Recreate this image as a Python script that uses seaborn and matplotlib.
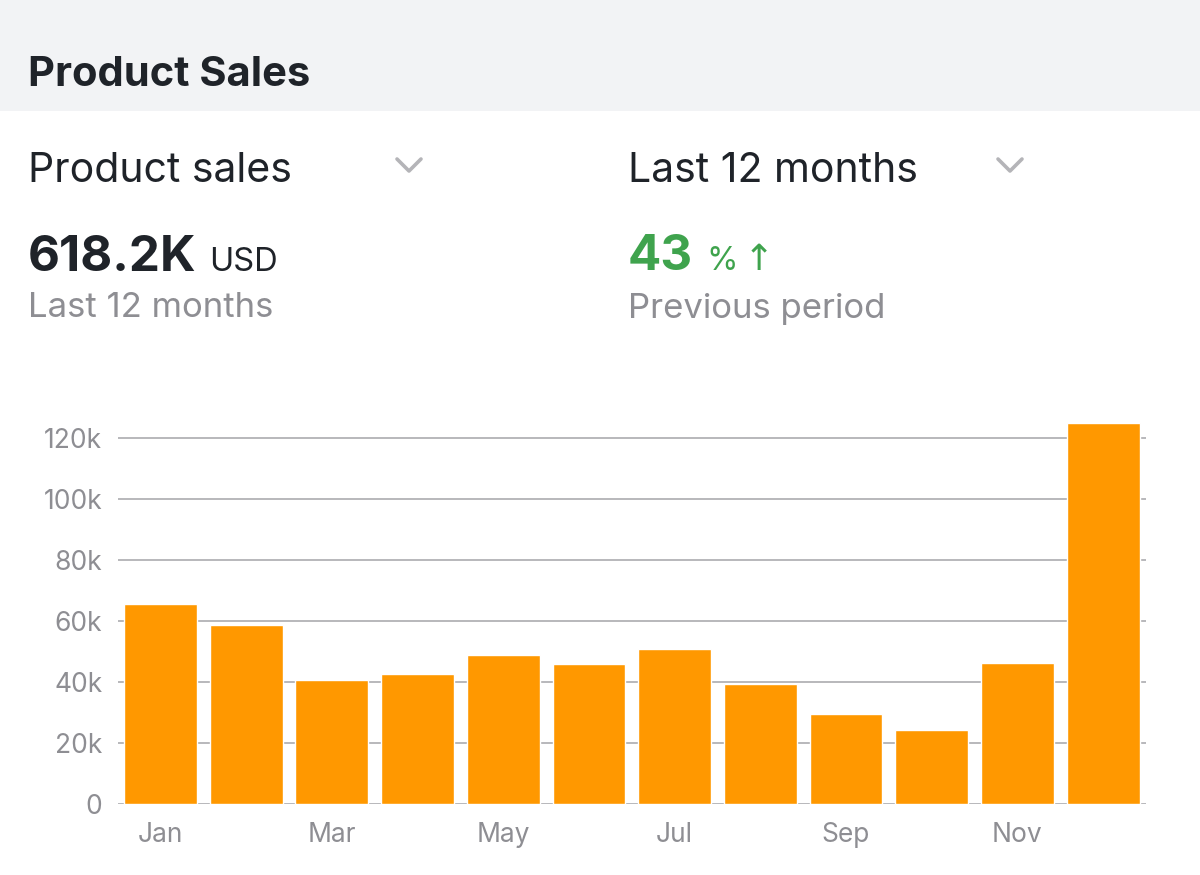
import matplotlib
matplotlib.use('Agg')
import matplotlib.pyplot as plt
import seaborn as sns
import pandas as pd
from matplotlib.patches import Rectangle
from matplotlib.lines import Line2D

months = ['Jan', 'Feb', 'Mar', 'Apr', 'May', 'Jun', 'Jul', 'Aug', 'Sep', 'Oct', 'Nov', 'Dec']
sales_k = [65.6, 58.7, 40.7, 42.7, 48.9, 45.9, 50.8, 39.3, 29.5, 24.3, 46.1, 125.0]
y_ticks = [0, 20, 40, 60, 80, 100, 120]
y_tick_labels = ['0', '20k', '40k', '60k', '80k', '100k', '120k']

df = pd.DataFrame({'month': months, 'sales': sales_k})

sns.set_theme(style='white')
plt.rcParams['font.family'] = ['Inter', 'DejaVu Sans']

W, H = 1200, 875
fig = plt.figure(figsize=(12, 8.75), dpi=100)
fig.patch.set_facecolor('white')

def fy(px):
    return 1 - px / H

def fx(px):
    return px / W

dark = '#1f2329'
grey = '#8e8e93'
green = '#3fa34d'

# header band
fig.patches.append(Rectangle((0, fy(111)), 1, 111 / H, transform=fig.transFigure,
                             facecolor='#f2f3f5', edgecolor='none', zorder=0))
fig.text(fx(28), fy(86), 'Product Sales', fontsize=30, fontweight='bold',
         color=dark, va='baseline', ha='left')

# left column
fig.text(fx(28), fy(182), 'Product sales', fontsize=29.5, color=dark, va='baseline')
fig.text(fx(28), fy(271), '618.2K', fontsize=35.5, fontweight='bold', color=dark, va='baseline')
fig.text(fx(209), fy(271), 'USD', fontsize=23.5, color=dark, va='baseline')
fig.text(fx(28), fy(317), 'Last 12 months', fontsize=25, color=grey, va='baseline')

# right column
fig.text(fx(628), fy(182), 'Last 12 months', fontsize=29.5, color=dark, va='baseline')
fig.text(fx(628), fy(270), '43', fontsize=35.5, fontweight='bold', color=green, va='baseline')
fig.text(fx(706), fy(270), '%', fontsize=23, color=green, va='baseline')
fig.text(fx(744), fy(270), '↑', fontsize=26, color=green, va='baseline',
         family=['DejaVu Sans'])
fig.text(fx(628), fy(318), 'Previous period', fontsize=25, color=grey, va='baseline')

# chevrons
for cx in (409, 1010):
    fig.lines.append(Line2D([fx(cx - 12), fx(cx), fx(cx + 12)],
                            [fy(159), fy(171), fy(159)], transform=fig.transFigure,
                            color='#b4b4b8', linewidth=2.6, solid_capstyle='round',
                            solid_joinstyle='round'))

# chart
ax_left, ax_right = 117.6, 1146
ax_top, ax_bottom = 420, 804
ax = fig.add_axes([fx(ax_left), fy(ax_bottom), (ax_right - ax_left) / W, (ax_bottom - ax_top) / H])
sns.barplot(data=df, x='month', y='sales', order=months, color='#ff9800',
            saturation=1, width=0.85, ax=ax, zorder=3)
ax.set_xlim(-0.5, len(months) - 0.5)
ax.set_ylim(0, (ax_bottom - ax_top) / 3.05)
ax.set_yticks(y_ticks)
ax.set_yticklabels(y_tick_labels)
ax.set_xticks(range(0, len(months), 2))
ax.set_xticklabels(months[::2])
ax.set_xlabel('')
ax.set_ylabel('')
ax.grid(axis='y', color='#a4a4a8', linewidth=1.1, zorder=0)
ax.set_axisbelow(True)
for s in ax.spines.values():
    s.set_visible(False)
ax.tick_params(axis='y', length=0, pad=11, labelsize=19, labelcolor=grey)
ax.tick_params(axis='x', length=0, pad=13, labelsize=19, labelcolor=grey)
ax.set_facecolor('white')

fig.savefig('out.png', dpi=100, facecolor='white')
